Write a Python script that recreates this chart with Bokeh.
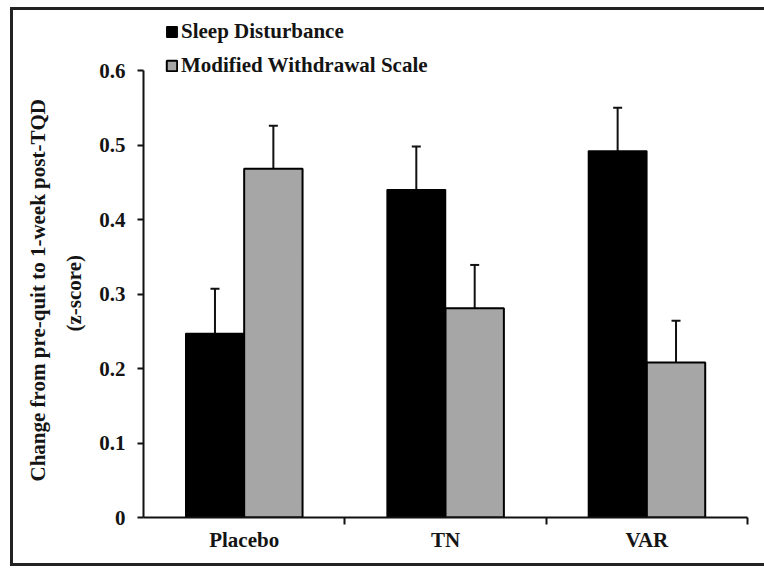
import numpy as np
from bokeh.plotting import figure
from bokeh.models import (ColumnDataSource, Range1d, LinearAxis, FixedTicker, Whisker,
                          TeeHead, Legend, LegendItem, Title)
from bokeh.transform import dodge
from bokeh.embed import file_html
from bokeh.resources import INLINE

# ---- data ----
categories = ["Placebo", "TN", "VAR"]
series_names = ["Sleep Disturbance", "Modified Withdrawal Scale"]
sleep_disturbance = [0.247, 0.440, 0.492]
sleep_err = [0.060, 0.058, 0.058]
withdrawal_scale = [0.468, 0.281, 0.208]
withdrawal_err = [0.058, 0.058, 0.056]
y_ticks = [0, 0.1, 0.2, 0.3, 0.4, 0.5, 0.6]
y_tick_labels = ["0", "0.1", "0.2", "0.3", "0.4", "0.5", "0.6"]
y_title_lines = ["Change from pre-quit to 1-week post-TQD", "(z-score)"]

FONT = "Liberation Serif"
TXT = "#141414"
GRAY = "#a6a6a6"
FS = "21px"

x_pos = np.arange(len(categories)) + 0.5
src = ColumnDataSource(dict(
    x=x_pos,
    sleep=sleep_disturbance,
    sleep_lo=np.array(sleep_disturbance) - np.array(sleep_err),
    sleep_hi=np.array(sleep_disturbance) + np.array(sleep_err),
    wd=withdrawal_scale,
    wd_lo=np.array(withdrawal_scale) - np.array(withdrawal_err),
    wd_hi=np.array(withdrawal_scale) + np.array(withdrawal_err),
))

# frame reaches above 0.6 so the legend (inside the frame) can sit there
y_top = 0.6 * 502 / 447
p = figure(width=754, height=559, x_range=Range1d(0, len(categories)),
           y_range=Range1d(0, y_top), output_backend="svg", toolbar_location=None,
           x_axis_type=None, y_axis_type=None,
           min_border_left=133, min_border_right=17, min_border_top=8, min_border_bottom=49)
p.outline_line_color = None
p.background_fill_color = "white"
p.border_fill_color = None
p.styles = {
    "margin-left": "10px",
    "margin-top": "7px",
    "background-color": "white",
    "box-shadow": "inset 3px 0 0 #222, inset 0 3px 0 #222, inset 0 -3px 0 #222",
}

off = 0.145
w = 0.29
r1 = p.vbar(x=dodge("x", -off), top="sleep", width=w, source=src,
            fill_color="black", line_color="black", line_width=1.5)
r2 = p.vbar(x=dodge("x", off), top="wd", width=w, source=src,
            fill_color=GRAY, line_color="black", line_width=2)

for lo, hi, d in [("sleep_lo", "sleep_hi", -off), ("wd_lo", "wd_hi", off)]:
    wh = Whisker(base=dodge("x", d), lower=lo, upper=hi, source=src,
                 line_color="#111", line_width=2,
                 upper_head=TeeHead(size=9, line_width=2, line_color="#111"),
                 lower_head=TeeHead(size=9, line_width=2, line_color="#111"))
    p.add_layout(wh)

# y axis
yaxis = LinearAxis(ticker=FixedTicker(ticks=y_ticks),
                   major_label_overrides=dict(zip(y_ticks, y_tick_labels)),
                   bounds=(0, 0.6))
yaxis.axis_line_width = 2
yaxis.axis_line_color = "#111"
yaxis.major_tick_line_width = 2
yaxis.major_tick_line_color = "#111"
yaxis.major_tick_out = 6
yaxis.major_tick_in = 0
yaxis.minor_tick_line_color = None
yaxis.major_label_text_font = FONT
yaxis.major_label_text_font_style = "bold"
yaxis.major_label_text_font_size = FS
yaxis.major_label_text_color = TXT
yaxis.major_label_standoff = 12
p.add_layout(yaxis, "left")

# y-axis title, two lines, centred on the 0..0.6 axis
t2 = Title(text=y_title_lines[1], align="left", offset=186, standoff=21,
           text_font=FONT, text_font_style="bold", text_font_size=FS, text_color=TXT)
t1 = Title(text=y_title_lines[0], align="left", offset=36, standoff=0,
           text_font=FONT, text_font_style="bold", text_font_size=FS, text_color=TXT)
p.add_layout(t2, "left")
p.add_layout(t1, "left")

# x axis: labels at category centres, tick marks at category boundaries
xaxis = LinearAxis(ticker=FixedTicker(ticks=list(x_pos),
                                      minor_ticks=list(np.arange(1, len(categories) + 1))),
                   major_label_overrides=dict(zip(list(x_pos), categories)))
xaxis.axis_line_width = 2
xaxis.axis_line_color = "#111"
xaxis.major_tick_out = 0
xaxis.major_tick_in = 0
xaxis.minor_tick_out = 7
xaxis.minor_tick_in = 0
xaxis.minor_tick_line_width = 2
xaxis.minor_tick_line_color = "#111"
xaxis.major_label_text_font = FONT
xaxis.major_label_text_font_style = "bold"
xaxis.major_label_text_font_size = FS
xaxis.major_label_text_color = TXT
xaxis.major_label_standoff = 3
p.add_layout(xaxis, "below")

legend = Legend(items=[LegendItem(label=series_names[0], renderers=[r1]),
                       LegendItem(label=series_names[1], renderers=[r2])],
                location=(22, 439))
legend.glyph_width = 13
legend.glyph_height = 13
legend.label_standoff = 3
legend.spacing = 9
legend.padding = 0
legend.margin = 0
legend.border_line_color = None
legend.background_fill_alpha = 0
legend.label_text_font = FONT
legend.label_text_font_style = "bold"
legend.label_text_font_size = FS
legend.label_text_color = TXT
p.add_layout(legend)

open("out.html", "w").write(file_html(p, INLINE))
